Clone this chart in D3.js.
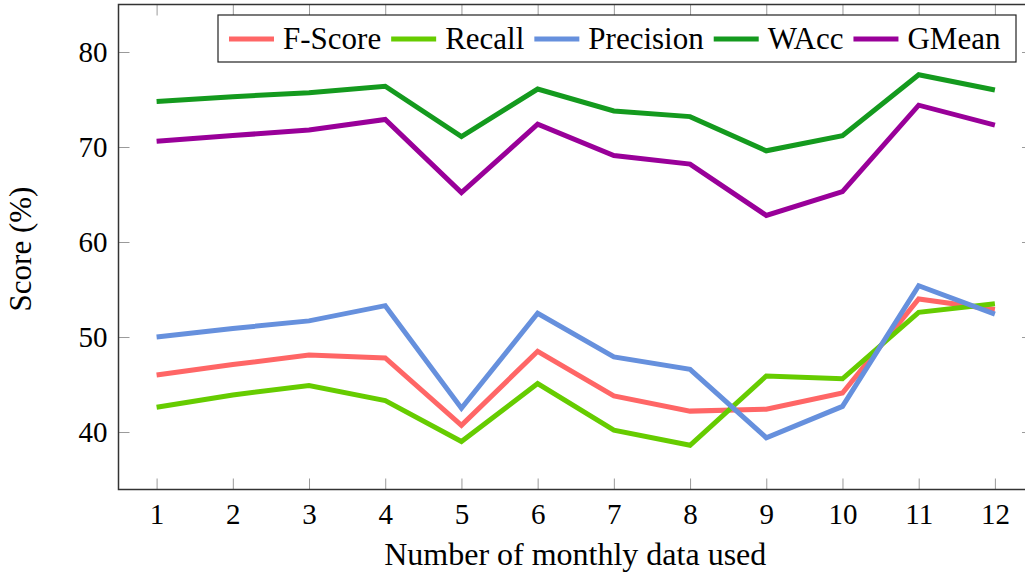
<!DOCTYPE html>
<html>
<head>
<meta charset="utf-8">
<script src="https://cdn.jsdelivr.net/npm/d3@7/dist/d3.min.js"></script>
<style>
  html, body { margin: 0; padding: 0; background: #fff; }
</style>
</head>
<body>
<svg id="chart" width="1025" height="573"></svg>
<script>
// Number of months of data used for training
const months = [1, 2, 3, 4, 5, 6, 7, 8, 9, 10, 11, 12];

// Scores (%) per metric
const fScore    = [46.0, 47.1, 48.1, 47.8, 40.7, 48.5, 43.8, 42.2, 42.4, 44.1, 54.0, 52.9];
const recall    = [42.6, 43.9, 44.9, 43.3, 39.0, 45.1, 40.2, 38.6, 45.9, 45.6, 52.6, 53.5];
const precision = [50.0, 50.9, 51.7, 53.3, 42.5, 52.5, 47.9, 46.6, 39.4, 42.7, 55.4, 52.4];
const wAcc      = [74.8, 75.3, 75.7, 76.4, 71.1, 76.1, 73.8, 73.2, 69.6, 71.2, 77.6, 76.0];
const gMean     = [70.6, 71.2, 71.8, 72.9, 65.2, 72.4, 69.1, 68.2, 62.8, 65.3, 74.4, 72.3];

const seriesNames  = ["F-Score", "Recall", "Precision", "WAcc", "GMean"];
const seriesColors = ["#ff6666", "#66cc00", "#6690dd", "#149a1e", "#990099"];
const seriesValues = [fScore, recall, precision, wAcc, gMean];

const yTicks = [40, 50, 60, 70, 80];

const FONT = "'Liberation Serif', 'Times New Roman', serif";

const svg = d3.select("#chart");
const plot = { left: 118.5, right: 1033, top: 4.5, bottom: 489.5 };

const x = d3.scaleLinear().domain([0.5, 12.5]).range([plot.left, plot.right]);
const y = d3.scaleLinear().domain([33.95, 85]).range([plot.bottom, plot.top]);

const tickLen = 11;
const tickColor = "#9a9a9a";

function styleAxis(g) {
  g.attr("font-family", null).attr("font-size", null);
  g.select(".domain").remove();
  g.selectAll(".tick line").attr("stroke", tickColor).attr("stroke-width", 1);
  g.selectAll(".tick text")
    .style("font-family", FONT).style("font-size", "29px").attr("fill", "#000");
}

// Bottom axis with labels, inward ticks
svg.append("g")
  .attr("transform", `translate(0,${plot.bottom})`)
  .call(d3.axisBottom(x).tickValues(months).tickFormat(d3.format("d"))
        .tickSizeInner(-tickLen).tickSizeOuter(0).tickPadding(14))
  .call(styleAxis);

// Top mirror ticks
svg.append("g")
  .attr("transform", `translate(0,${plot.top})`)
  .call(d3.axisTop(x).tickValues(months).tickFormat("")
        .tickSizeInner(-tickLen).tickSizeOuter(0))
  .call(styleAxis);

// Left axis with labels
svg.append("g")
  .attr("transform", `translate(${plot.left},0)`)
  .call(d3.axisLeft(y).tickValues(yTicks).tickFormat(d3.format("d"))
        .tickSizeInner(-tickLen).tickSizeOuter(0).tickPadding(11))
  .call(styleAxis);

// Right mirror ticks
svg.append("g")
  .attr("transform", `translate(${plot.right},0)`)
  .call(d3.axisRight(y).tickValues(yTicks).tickFormat("")
        .tickSizeInner(-tickLen).tickSizeOuter(0))
  .call(styleAxis);

// Plot frame
svg.append("rect")
  .attr("x", plot.left).attr("y", plot.top)
  .attr("width", plot.right - plot.left).attr("height", plot.bottom - plot.top)
  .attr("fill", "none").attr("stroke", "#333").attr("stroke-width", 1.5);

// Series lines
const line = d3.line()
  .x((d, i) => x(months[i]))
  .y(d => y(d));

seriesValues.forEach((vals, k) => {
  svg.append("path")
    .datum(vals)
    .attr("d", line)
    .attr("fill", "none")
    .attr("stroke", seriesColors[k])
    .attr("stroke-width", 5)
    .attr("stroke-linejoin", "miter");
});

// Axis titles
svg.append("text")
  .attr("x", (plot.left + plot.right) / 2 - 0.5).attr("y", 565)
  .attr("text-anchor", "middle")
  .style("font-family", FONT).style("font-size", "32px")
  .text("Number of monthly data used");

svg.append("text")
  .attr("transform", `translate(31,249) rotate(-90)`)
  .attr("text-anchor", "middle")
  .style("font-family", FONT).style("font-size", "31px")
  .text("Score (%)");

// Legend
const legend = svg.append("g");
legend.append("rect")
  .attr("x", 218).attr("y", 15).attr("width", 798).attr("height", 47)
  .attr("fill", "#fff").attr("stroke", "#222").attr("stroke-width", 1.2);
let cx = 229;
const ly = 39;
seriesNames.forEach((name, k) => {
  legend.append("line")
    .attr("x1", cx).attr("x2", cx + 45).attr("y1", ly).attr("y2", ly)
    .attr("stroke", seriesColors[k]).attr("stroke-width", 5);
  const t = legend.append("text")
    .attr("x", cx + 54).attr("y", ly + 10)
    .style("font-family", FONT).style("font-size", "31px")
    .text(name);
  cx = cx + 54 + t.node().getComputedTextLength() + 10;
});
</script>
</body>
</html>
